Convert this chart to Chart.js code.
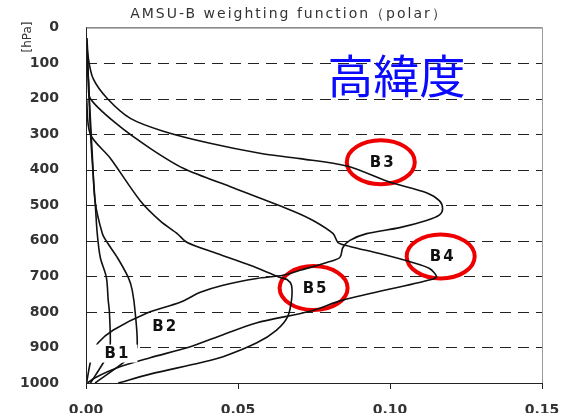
<!DOCTYPE html>
<html>
<head>
<meta charset="utf-8">
<script src="https://cdn.jsdelivr.net/npm/chart.js@4/dist/chart.umd.min.js"></script>
<style>
  html, body { margin: 0; padding: 0; background: #fff; }
  canvas { display: block; }
</style>
</head>
<body>
<canvas id="myChart" width="574" height="413"></canvas>
<script>
// weighting function curves: [weight, pressure hPa]
const b1 = [[0.0002, 30], [0.0008, 150], [0.0015, 300], [0.0024, 420], [0.0030, 490], [0.0037, 580],
  [0.0047, 647], [0.0067, 703], [0.0073, 767], [0.0077, 800], [0.0080, 887], [0.0075, 915],
  [0.0057, 943], [0.0015, 1000]];
const b2 = [[0.0003, 40], [0.0008, 150], [0.0014, 250], [0.0022, 380], [0.0030, 490], [0.0054, 580],
  [0.0070, 605], [0.0103, 647], [0.0139, 703], [0.0152, 739], [0.0162, 803], [0.0168, 898],
  [0.0150, 920], [0.0123, 943], [0.0030, 1000]];
const b3 = [[0.0003, 30], [0.0008, 88], [0.0024, 145], [0.0070, 200], [0.0146, 256], [0.0254, 292],
  [0.0408, 326], [0.0572, 354], [0.0704, 369], [0.0858, 390], [0.0999, 435], [0.1120, 465],
  [0.1163, 488], [0.1173, 510], [0.1163, 527], [0.1120, 543], [0.1032, 563], [0.0923, 580],
  [0.0868, 599], [0.0845, 619], [0.0835, 647], [0.0792, 661], [0.0704, 683], [0.0648, 697],
  [0.0562, 706], [0.0451, 725], [0.0376, 745], [0.0310, 773], [0.0201, 803], [0.0090, 851],
  [0.0040, 887], [0.0025, 915], [0.0014, 943], [0.0002, 1000]];
const b4 = [[0.0002, 80], [0.0008, 150], [0.0014, 200], [0.0103, 273], [0.0211, 340], [0.0320, 396],
  [0.0484, 451], [0.0680, 516], [0.0747, 543], [0.0813, 580], [0.0829, 605], [0.0868, 616],
  [0.0966, 636], [0.1074, 661], [0.1130, 678], [0.1153, 700], [0.1140, 708], [0.0845, 767],
  [0.0737, 798], [0.0560, 831], [0.0451, 864], [0.0343, 898], [0.0211, 929], [0.0103, 957],
  [0.0030, 985], [0.0005, 1000]];
const b5 = [[0.0002, 200], [0.0014, 300], [0.0080, 368], [0.0179, 488], [0.0244, 544], [0.0300, 580],
  [0.0333, 605], [0.0431, 636], [0.0540, 669], [0.0638, 703], [0.0661, 709], [0.0676, 725],
  [0.0676, 767], [0.0663, 814], [0.0627, 851], [0.0562, 887], [0.0451, 926], [0.0376, 943],
  [0.0211, 975], [0.0106, 1000]];

const curveLabels = ['B1', 'B2', 'B3', 'B4', 'B5'];
const labelW = [0.0100, 0.0257, 0.0973, 0.1170, 0.0752];
const labelP = [920, 842, 382, 647, 736];
const circled = [false, false, true, true, true];

const xTicks = [0, 0.05, 0.10, 0.15];
const yTicks = [0, 100, 200, 300, 400, 500, 600, 700, 800, 900, 1000];

const titleText = 'AMSU-B weighting function（polar）';
const regionText = '高緯度';
const regionW = 0.1021;
const regionP = 136;

const tickFont = { family: 'DejaVu Sans', size: 14, weight: 'bold' };

// dashed grid, x ticks, circles (under the curves); labels and frame on top
const decor = {
  id: 'decor',
  beforeDatasetsDraw(chart) {
    const { ctx, chartArea, scales: { x, y } } = chart;
    ctx.save();
    ctx.lineWidth = 1;
    ctx.strokeStyle = '#222';
    ctx.setLineDash([11, 7]);
    yTicks.slice(1, -1).forEach(v => {
      const py = Math.round(y.getPixelForValue(v)) + 0.5;
      ctx.beginPath();
      ctx.moveTo(chartArea.left, py);
      ctx.lineTo(chartArea.right, py);
      ctx.stroke();
    });
    ctx.setLineDash([]);
    xTicks.forEach(v => {
      const px = Math.round(x.getPixelForValue(v)) + 0.5;
      ctx.beginPath();
      ctx.moveTo(px, chartArea.bottom);
      ctx.lineTo(px, chartArea.bottom + 6);
      ctx.stroke();
    });

    curveLabels.forEach((name, i) => {
      if (!circled[i]) return;
      const cx = x.getPixelForValue(labelW[i]) - 1;
      const cy = y.getPixelForValue(labelP[i]) - 1;
      ctx.beginPath();
      ctx.ellipse(cx, cy, 34, 22, 0, 0, 2 * Math.PI);
      ctx.fillStyle = '#fff';
      ctx.fill();
      ctx.lineWidth = 4;
      ctx.strokeStyle = '#ee0000';
      ctx.stroke();
    });
    ctx.restore();
  },
  afterDatasetsDraw(chart) {
    const { ctx, chartArea, scales: { x, y } } = chart;
    ctx.save();

    // white box behind B1 hides the curve ends
    const b1x = x.getPixelForValue(labelW[0]);
    const b1y = y.getPixelForValue(labelP[0]);
    ctx.fillStyle = '#fff';
    ctx.fillRect(chartArea.left + 1, b1y - 10, b1x + 21 - chartArea.left - 1, 18);

    ctx.font = 'bold 15px "DejaVu Sans"';
    ctx.letterSpacing = '2px';
    ctx.fillStyle = '#111';
    ctx.textAlign = 'center';
    ctx.textBaseline = 'middle';
    curveLabels.forEach((name, i) => {
      ctx.fillText(name, x.getPixelForValue(labelW[i]) + 1, y.getPixelForValue(labelP[i]));
    });

    ctx.letterSpacing = '0px';
    ctx.font = '46px "Noto Sans CJK JP"';
    ctx.fillStyle = '#0a0aff';
    ctx.fillText(regionText, x.getPixelForValue(regionW), y.getPixelForValue(regionP));

    // frame: axes, top and right
    ctx.lineWidth = 1;
    ctx.strokeStyle = '#222';
    ctx.beginPath();
    ctx.moveTo(chartArea.left + 0.5, chartArea.top);
    ctx.lineTo(chartArea.left + 0.5, chartArea.bottom + 0.5);
    ctx.lineTo(chartArea.right, chartArea.bottom + 0.5);
    ctx.stroke();
    ctx.strokeStyle = '#444';
    ctx.beginPath();
    ctx.moveTo(chartArea.left, chartArea.top + 0.5);
    ctx.lineTo(chartArea.right, chartArea.top + 0.5);
    ctx.stroke();
    ctx.strokeStyle = '#999';
    ctx.beginPath();
    ctx.moveTo(chartArea.right + 0.5, chartArea.top);
    ctx.lineTo(chartArea.right + 0.5, chartArea.bottom);
    ctx.stroke();

    // title
    ctx.font = '14px "DejaVu Sans"';
    ctx.letterSpacing = '2px';
    ctx.fillStyle = '#333';
    ctx.fillText(titleText, 289, 14);

    // unit
    ctx.letterSpacing = '0px';
    ctx.font = '12px "DejaVu Sans"';
    ctx.translate(28, 37);
    ctx.rotate(-Math.PI / 2);
    ctx.fillText('[hPa]', 0, 0);
    ctx.restore();
  }
};

const curves = [b1, b2, b3, b4, b5];

const config = {
  type: 'scatter',
  data: {
    datasets: curves.map((c, i) => ({
      label: curveLabels[i],
      data: c.map(([w, p]) => ({ x: w, y: p })),
      showLine: true,
      borderColor: '#111',
      borderWidth: 1.6,
      pointRadius: 0,
      tension: 0.3,
      fill: false
    }))
  },
  options: {
    responsive: false,
    animation: false,
    devicePixelRatio: 1,
    layout: { padding: { left: 0, top: 25, right: 32, bottom: 0 } },
    plugins: {
      legend: { display: false },
      tooltip: { enabled: false },
      title: { display: false }
    },
    scales: {
      x: {
        type: 'linear',
        min: 0,
        max: 0.15,
        afterFit: s => { s.height = 30; },
        afterBuildTicks: s => { s.ticks = xTicks.map(v => ({ value: v })); },
        grid: { display: false, tickLength: 6 },
        border: { display: false },
        ticks: {
          padding: 13,
          color: '#333',
          font: tickFont,
          maxRotation: 0,
          autoSkip: false,
          callback: v => Number(v).toFixed(2)
        }
      },
      y: {
        type: 'linear',
        reverse: true,
        min: 0,
        max: 1000,
        afterFit: s => { s.width = 86; },
        afterBuildTicks: s => { s.ticks = yTicks.map(v => ({ value: v })); },
        grid: { display: false },
        border: { display: false },
        ticks: {
          padding: 19,
          color: '#333',
          font: tickFont,
          autoSkip: false,
          callback: v => String(v)
        }
      }
    }
  },
  plugins: [decor]
};

new Chart(document.getElementById('myChart').getContext('2d'), config);
</script>
</body>
</html>
